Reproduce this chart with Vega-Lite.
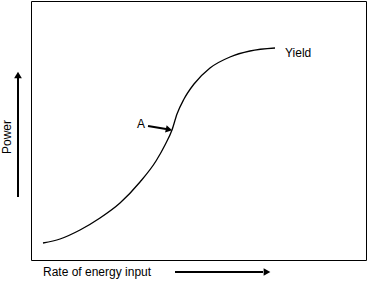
{
  "$schema": "https://vega.github.io/schema/vega-lite/v6.json",
  "width": 335,
  "height": 259,
  "autosize": {"type": "none"},
  "padding": {"left": 31, "top": 1, "right": 1, "bottom": 22},
  "background": "white",
  "config": {
    "view": {"stroke": "black", "strokeWidth": 1},
    "text": {"font": "Liberation Sans", "fontSize": 12, "fontWeight": "normal", "color": "black"}
  },
  "datasets": {
    "curve": [
      {"x": 12, "y": 17}, {"x": 29, "y": 21}, {"x": 49, "y": 30}, {"x": 69, "y": 42},
      {"x": 89, "y": 57}, {"x": 109, "y": 78}, {"x": 125, "y": 99}, {"x": 134, "y": 115},
      {"x": 141, "y": 130}, {"x": 146, "y": 146}, {"x": 153, "y": 161}, {"x": 163, "y": 176},
      {"x": 179, "y": 192}, {"x": 199, "y": 203}, {"x": 219, "y": 209}, {"x": 244, "y": 212}
    ],
    "arrows": [
      {"name": "power", "x": -13, "y": 63, "x2": -13, "y2": 182},
      {"name": "rate", "x": 144, "y": -12, "x2": 232, "y2": -12},
      {"name": "A", "x": 117, "y": 134, "x2": 135, "y2": 131}
    ]
  },
  "layer": [
    {
      "data": {"name": "curve"},
      "mark": {"type": "line", "color": "black", "strokeWidth": 1.3, "interpolate": "monotone"},
      "encoding": {
        "x": {"field": "x", "type": "quantitative", "scale": {"domain": [0, 335], "nice": false, "zero": false}, "axis": null},
        "y": {"field": "y", "type": "quantitative", "scale": {"domain": [0, 259], "nice": false, "zero": false}, "axis": null}
      }
    },
    {
      "data": {"name": "arrows"},
      "mark": {"type": "rule", "color": "black", "strokeWidth": 2},
      "encoding": {
        "x": {"field": "x", "type": "quantitative"},
        "y": {"field": "y", "type": "quantitative"},
        "x2": {"field": "x2"},
        "y2": {"field": "y2"}
      }
    },
    {
      "data": {"values": [{"x": -13, "y": 185}]},
      "mark": {"type": "point", "shape": "triangle-up", "filled": true, "color": "black", "size": 60, "opacity": 1},
      "encoding": {"x": {"field": "x", "type": "quantitative"}, "y": {"field": "y", "type": "quantitative"}}
    },
    {
      "data": {"values": [{"x": 236, "y": -12}]},
      "mark": {"type": "point", "shape": "triangle-right", "filled": true, "color": "black", "size": 60, "opacity": 1},
      "encoding": {"x": {"field": "x", "type": "quantitative"}, "y": {"field": "y", "type": "quantitative"}}
    },
    {
      "data": {"values": [{"x": 138, "y": 130.5}]},
      "mark": {"type": "point", "shape": "triangle-right", "filled": true, "color": "black", "size": 55, "opacity": 1, "angle": 12},
      "encoding": {"x": {"field": "x", "type": "quantitative"}, "y": {"field": "y", "type": "quantitative"}}
    },
    {
      "data": {"values": [{"label": "Yield", "x": 254, "y": 207}]},
      "mark": {"type": "text", "align": "left", "baseline": "middle"},
      "encoding": {"x": {"field": "x", "type": "quantitative"}, "y": {"field": "y", "type": "quantitative"}, "text": {"field": "label"}}
    },
    {
      "data": {"values": [{"label": "A", "x": 110, "y": 136}]},
      "mark": {"type": "text", "align": "center", "baseline": "middle"},
      "encoding": {"x": {"field": "x", "type": "quantitative"}, "y": {"field": "y", "type": "quantitative"}, "text": {"field": "label"}}
    },
    {
      "data": {"values": [{"label": "Power", "x": -24.5, "y": 123}]},
      "mark": {"type": "text", "align": "center", "baseline": "middle", "angle": 270},
      "encoding": {"x": {"field": "x", "type": "quantitative"}, "y": {"field": "y", "type": "quantitative"}, "text": {"field": "label"}}
    },
    {
      "data": {"values": [{"label": "Rate of energy input", "x": 12, "y": -12}]},
      "mark": {"type": "text", "align": "left", "baseline": "middle"},
      "encoding": {"x": {"field": "x", "type": "quantitative"}, "y": {"field": "y", "type": "quantitative"}, "text": {"field": "label"}}
    }
  ]
}
